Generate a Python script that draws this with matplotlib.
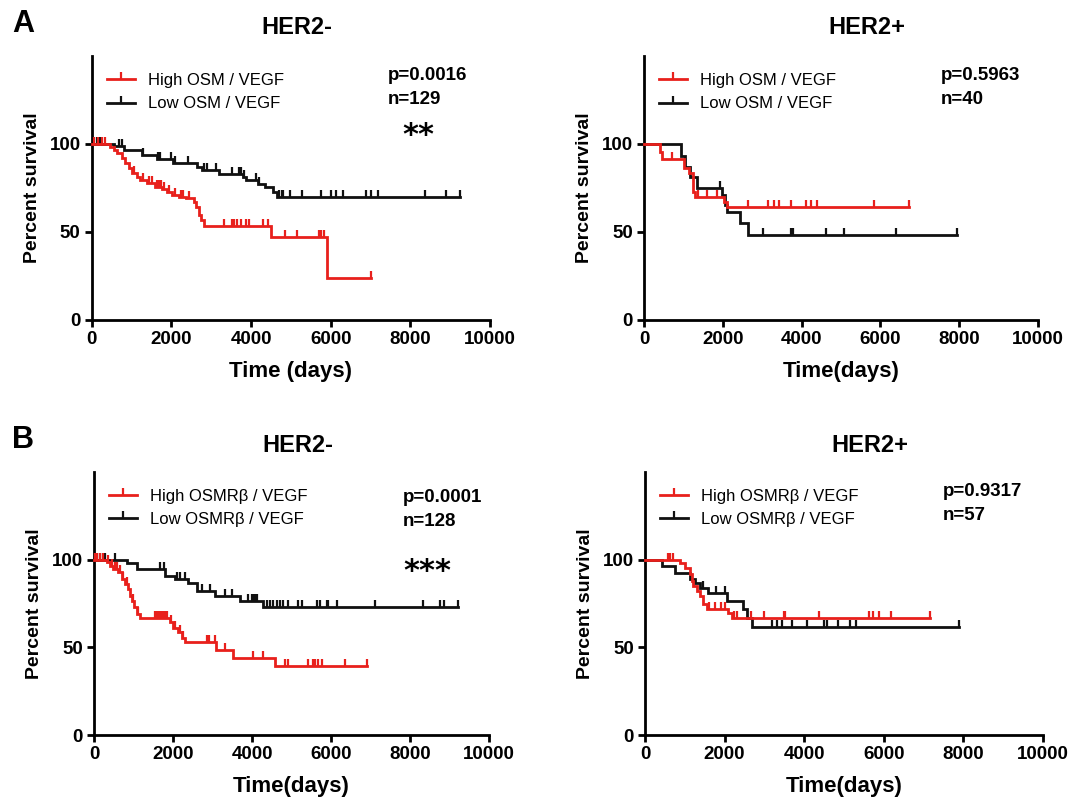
import numpy as np
import matplotlib
matplotlib.use("Agg")
import matplotlib.pyplot as plt
from matplotlib.path import Path
from matplotlib.lines import Line2D

# ---------------- data ----------------
# each curve: drop times (days), survival level after each drop (%), censor times, last follow-up
al_high_times = [460, 550, 630, 760, 840, 925, 1010, 1140, 1220, 1390, 1600, 1770, 1890, 2020,
                 2190, 2360, 2570, 2610, 2690, 2740, 2820, 4510, 5920]
al_high_surv = [98.5, 96.6, 94.7, 92.0, 89.0, 86.2, 83.3, 81.4, 79.5, 77.7, 75.8, 74.4, 72.9, 71.0,
                70.1, 69.1, 67.2, 64.4, 59.7, 56.8, 53.4, 47.3, 23.7]
al_high_censor = [60, 150, 250, 330, 1060, 1300, 1450, 1520, 1650, 1700, 1730, 1820, 1950, 2100,
                  2250, 2300, 2450, 3320, 3530, 3570, 3660, 3750, 3870, 3960, 4300, 4430,
                  4850, 5150, 5700, 5750, 5830, 7000]
al_high_end = 7000

al_low_times = [550, 800, 1270, 1640, 2040, 2640, 2770, 3190, 3790, 3870, 4170, 4340, 4550, 4640]
al_low_surv = [98.9, 96.4, 93.8, 91.3, 89.0, 86.7, 85.2, 83.0, 81.4, 79.5, 77.3, 75.4, 72.9, 70.1]
al_low_censor = [130, 170, 210, 680, 770, 1300, 1660, 1710, 2000, 2090, 2430, 2810, 2900, 3110,
                 3530, 3700, 3750, 3830, 4120, 4200, 4700, 4770, 4810, 4980, 5280, 5750, 6000,
                 6130, 6300, 6890, 7020, 7190, 8380, 8890, 9250]
al_low_end = 9250

ar_high_times = [410, 450, 1010, 1130, 1250, 1300, 2040, 2100]
ar_high_surv = [95.6, 91.5, 86.2, 83.3, 72.9, 70.1, 67.2, 64.0]
ar_high_censor = [700, 1380, 1590, 1860, 2650, 3140, 3300, 3420, 3720, 4120, 4230, 4390, 5840, 6730]
ar_high_end = 6730

ar_low_times = [950, 1040, 1170, 1340, 1980, 2060, 2100, 2440, 2650]
ar_low_surv = [93.4, 87.1, 81.4, 75.2, 71.0, 65.3, 61.2, 54.9, 48.3]
ar_low_censor = [1940, 3030, 3740, 3790, 4610, 5080, 6400, 7950]
ar_low_end = 7950

bl_high_times = [320, 405, 490, 615, 700, 785, 870, 910, 955, 1020, 1080, 1165, 1925, 2005, 2135,
                 2220, 2300, 3100, 3530, 4580]
bl_high_surv = [98.5, 96.6, 94.7, 92.8, 89.0, 86.1, 83.2, 79.4, 76.6, 72.8, 69.0, 67.0, 64.2, 61.3,
                58.5, 55.6, 52.8, 48.5, 44.2, 39.6]
bl_high_censor = [25, 70, 150, 240, 360, 450, 530, 570, 660, 740, 830, 990, 1120, 1550, 1590, 1630,
                  1670, 1710, 1760, 1800, 1860, 1960, 2060, 2180, 2260, 2850, 2900, 3060, 3320,
                  4030, 4290, 4840, 4920, 5430, 5550, 5600, 5680, 5770, 6360, 6900]
bl_high_end = 6900

bl_low_times = [830, 1080, 1800, 2050, 2390, 2620, 3070, 3700, 4290]
bl_low_surv = [98.3, 94.4, 90.5, 88.8, 86.9, 82.0, 79.1, 76.5, 73.0]
bl_low_censor = [150, 280, 530, 1670, 1760, 2100, 2180, 2300, 2730, 2940, 3320, 3490, 3900, 3990,
                 4030, 4080, 4120, 4370, 4460, 4540, 4630, 4710, 4790, 4920, 5170, 5260, 5640,
                 5720, 5890, 5930, 6140, 7120, 8340, 8760, 8850, 9220]
bl_low_end = 9220

br_high_times = [879, 1005, 1131, 1173, 1214, 1298, 1382, 1466, 1549, 2094, 2178]
br_high_surv = [98.3, 95.4, 91.6, 87.8, 84.9, 82.0, 79.2, 74.5, 71.6, 69.7, 66.9]
br_high_censor = [580, 640, 700, 1620, 1750, 1910, 2000, 2240, 2320, 2660, 2990, 3490, 3530, 4360,
                  5640, 5730, 5890, 6180, 7150]
br_high_end = 7150

br_low_times = [420, 754, 1131, 1256, 1380, 1591, 2069, 2471, 2555, 2680]
br_low_surv = [96.4, 92.6, 88.8, 86.9, 84.0, 80.8, 76.4, 71.6, 66.9, 61.5]
br_low_censor = [1460, 1790, 2000, 3200, 3320, 3450, 3690, 4070, 4510, 4570, 4860, 5150, 5300, 7900]
br_low_end = 7900

titles = ["HER2-", "HER2+", "HER2-", "HER2+"]
legend_labels = [("High OSM / VEGF", "Low OSM / VEGF"), ("High OSM / VEGF", "Low OSM / VEGF"),
                 ("High OSMR\u03b2 / VEGF", "Low OSMR\u03b2 / VEGF"),
                 ("High OSMR\u03b2 / VEGF", "Low OSMR\u03b2 / VEGF")]
p_texts = ["p=0.0016", "p=0.5963", "p=0.0001", "p=0.9317"]
n_texts = ["n=129", "n=40", "n=128", "n=57"]
stars = ["**", "", "***", ""]
xlabels = ["Time (days)", "Time(days)", "Time(days)", "Time(days)"]
x_ticks = [0, 2000, 4000, 6000, 8000, 10000]
y_ticks = [0, 50, 100]

RED = "#e8201c"
BLACK = "#111111"
W, H = 1072, 797
SANS = ["Liberation Sans", "DejaVu Sans"]

plt.rcParams["font.family"] = SANS

fig = plt.figure(figsize=(W / 100, H / 100), dpi=100)

def fx(x):
    return x / W

def fy(y):
    return 1 - y / H

# axes rectangles in pixels: (x of day 0, x of day 10000, y of 0%, y of 150%)
rects = [(91.7, 490, 320, 56), (644, 1038, 320, 56), (94, 489, 735, 472), (645, 1043, 735, 472)]
# text anchors in pixels: (p-value x, p-value y, stars x, stars y)
text_pos = [(388, 75, 402, 135), (941, 75, None, None), (403, 497, 403, 572), (943, 491, None, None)]

tick_marker = Path([(0, 0), (0, 1)])

curves = [
    ((al_high_times, al_high_surv, al_high_censor, al_high_end),
     (al_low_times, al_low_surv, al_low_censor, al_low_end)),
    ((ar_high_times, ar_high_surv, ar_high_censor, ar_high_end),
     (ar_low_times, ar_low_surv, ar_low_censor, ar_low_end)),
    ((bl_high_times, bl_high_surv, bl_high_censor, bl_high_end),
     (bl_low_times, bl_low_surv, bl_low_censor, bl_low_end)),
    ((br_high_times, br_high_surv, br_high_censor, br_high_end),
     (br_low_times, br_low_surv, br_low_censor, br_low_end)),
]

LW = 2.0

def draw_km(ax, times, surv, censor, end, color):
    t = np.array([0] + list(times) + [end], dtype=float)
    s = np.array([100] + list(surv) + [surv[-1]], dtype=float)
    ax.step(t, s, where="post", color=color, lw=LW, solid_joinstyle="miter", clip_on=False, zorder=3)
    c = np.array(censor, dtype=float)
    idx = np.searchsorted(t[:-1], c, side="right") - 1
    ax.plot(c, s[idx], linestyle="none", marker=tick_marker, markersize=10,
            markeredgewidth=1.6, color=color, clip_on=False, zorder=3)

for i, (x0, x1, y0, y1) in enumerate(rects):
    ax = fig.add_axes([fx(x0), fy(y0), (x1 - x0) / W, (y0 - y1) / H])
    high, low = curves[i]
    draw_km(ax, *low, BLACK)
    draw_km(ax, *high, RED)
    ax.set_xlim(0, 10000)
    ax.set_ylim(0, 150)
    for sp in ["top", "right"]:
        ax.spines[sp].set_visible(False)
    for sp in ["left", "bottom"]:
        ax.spines[sp].set_linewidth(2.0)
    ax.set_xticks(x_ticks)
    ax.set_yticks(y_ticks)
    ax.tick_params(direction="out", length=5, width=2.0, pad=3)
    for lab in ax.get_xticklabels() + ax.get_yticklabels():
        lab.set_fontweight("bold")
        lab.set_fontsize(13.5)
    ax.set_xlabel(xlabels[i], fontsize=16, fontweight="bold", labelpad=9)
    ax.set_ylabel("Percent survival", fontsize=14, fontweight="bold", labelpad=6)
    handles = [Line2D([], [], color=RED, lw=LW, marker=tick_marker, markersize=10, markeredgewidth=1.6),
               Line2D([], [], color=BLACK, lw=LW, marker=tick_marker, markersize=10, markeredgewidth=1.6)]
    lx = x0 + 15
    ly = y1 + 17
    ax.legend(handles, legend_labels[i], loc="upper left",
              bbox_to_anchor=(fx(lx), fy(ly)), bbox_transform=fig.transFigure,
              frameon=False, fontsize=12, handlelength=1.7, handletextpad=0.75,
              borderpad=0, borderaxespad=0, labelspacing=0.5, numpoints=1)
    px, py, sx, sy = text_pos[i]
    fig.text(fx(px), fy(py), p_texts[i], fontsize=13.5, fontweight="bold", va="center", ha="left")
    fig.text(fx(px), fy(py + 24), n_texts[i], fontsize=13.5, fontweight="bold", va="center", ha="left")
    if stars[i]:
        fig.text(fx(sx), fy(sy), stars[i], fontsize=22, fontweight="bold",
                 family=["DejaVu Sans"], va="center", ha="left")
    ty = 27 if i in (0, 1) else 446
    tx = (x0 + x1) / 2 + (6 if i in (0, 2) else 26)
    fig.text(fx(tx), fy(ty), titles[i], fontsize=17, fontweight="bold", ha="center", va="center")

fig.text(fx(12), fy(24), "A", fontsize=22, fontweight="bold", ha="left", va="center")
fig.text(fx(12), fy(440), "B", fontsize=22, fontweight="bold", ha="left", va="center")

fig.savefig("out.png", dpi=100)
